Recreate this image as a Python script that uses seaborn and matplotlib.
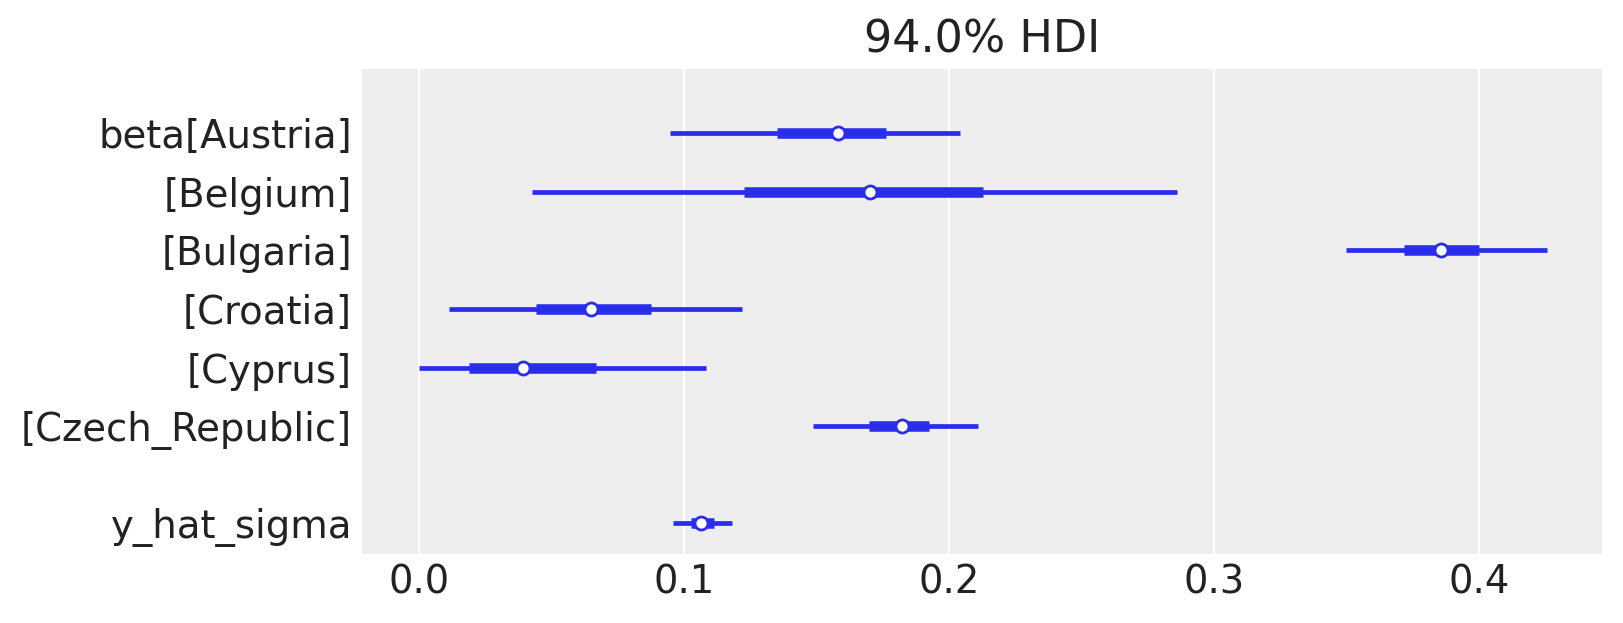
import numpy as np
import pandas as pd
import matplotlib
matplotlib.use("Agg")
import matplotlib.pyplot as plt
import seaborn as sns

# forest plot data
labels = ["beta[Austria]", "[Belgium]", "[Bulgaria]", "[Croatia]", "[Cyprus]",
          "[Czech_Republic]", "y_hat_sigma"]
group = ["beta", "beta", "beta", "beta", "beta", "beta", "y_hat_sigma"]
hdi_low = [0.0948, 0.0426, 0.3498, 0.0113, 0.0000, 0.1487, 0.0958]
hdi_high = [0.2040, 0.2860, 0.4255, 0.1218, 0.1083, 0.2108, 0.1181]
iqr_low = [0.1351, 0.1227, 0.3717, 0.0441, 0.0188, 0.1700, 0.1025]
iqr_high = [0.1762, 0.2128, 0.4000, 0.0874, 0.0669, 0.1925, 0.1114]
median = [0.1581, 0.1703, 0.3858, 0.0651, 0.0392, 0.1822, 0.1064]

df = pd.DataFrame({"label": labels, "group": group, "lo": hdi_low, "hi": hdi_high,
                   "q1": iqr_low, "q3": iqr_high, "median": median})

# y positions: one step per row, extra gap between variables
gap = 0.65
pos = []
y = 0.0
for i, g in enumerate(df["group"]):
    if i > 0 and g != df["group"][i - 1]:
        y += gap
    pos.append(y)
    y += 1
df["y"] = pos

sns.set_theme(style="darkgrid", rc={
    "axes.facecolor": "#eeeeee",
    "grid.color": "white",
    "grid.linewidth": 0.8,
    "axes.edgecolor": "#eeeeee",
})
plt.rcParams['font.family'] = ['DejaVu Sans']

blue = "#2a2eec"
fig, ax = plt.subplots(figsize=(8.115, 3.115), dpi=200)

ax.hlines(df["y"], df["lo"], df["hi"], color=blue, linewidth=1.7)
ax.hlines(df["y"], df["q1"], df["q3"], color=blue, linewidth=3.8)
sns.scatterplot(data=df, x="median", y="y", ax=ax, color="white",
                edgecolor=blue, linewidth=1.0, s=22, zorder=3, legend=False)

ax.set_yticks(df["y"])
ax.set_yticklabels(df["label"])
ax.set_ylim(df["y"].max() + 0.53, -1.095)
ax.set_xlim(-0.0215, 0.4464)
ax.grid(axis="y", visible=False)
ax.set_xticks([0.0, 0.1, 0.2, 0.3, 0.4])
ax.tick_params(axis="both", labelsize=13.9, length=0, colors="#222222")
ax.set_xlabel("")
ax.set_ylabel("")
for s in ax.spines.values():
    s.set_visible(False)
ax.set_title("94.0% HDI", fontsize=16, color="#222222", pad=6)

plt.subplots_adjust(left=0.223, right=0.987, top=0.889, bottom=0.111)
plt.savefig("out.png", dpi=200)
